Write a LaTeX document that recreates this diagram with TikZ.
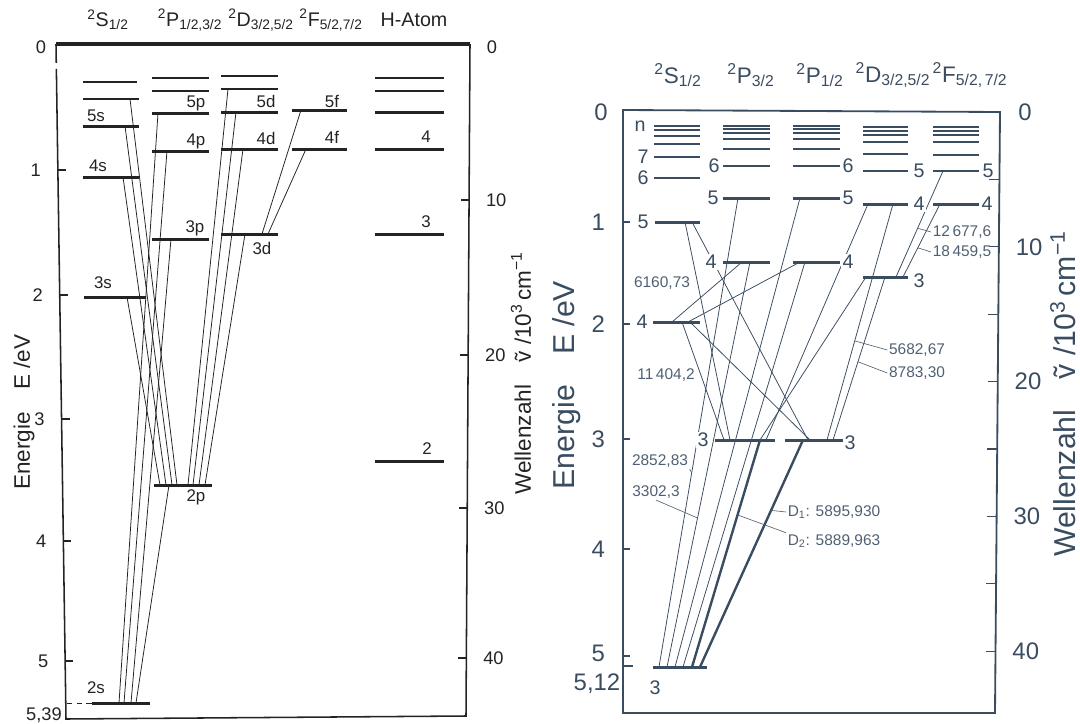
\documentclass[tikz,border=0pt]{standalone}
\usepackage{fontspec}
\setmainfont{Liberation Sans}
\usetikzlibrary{calc}
\definecolor{liK}{RGB}{35,35,35}
\definecolor{naK}{RGB}{58,76,96}
\definecolor{naT}{RGB}{80,96,114}
\newcommand\term[3]{\textsuperscript{#1}#2\textsubscript{#3}}

\begin{document}
\begin{tikzpicture}[x=0.025cm, y=-0.025cm,
    lv/.style={fill=liK, inner sep=0pt, outer sep=0pt, minimum height=0.075cm, minimum width=#1*0.025cm},
    nv/.style={lv=#1, fill=naK},
    lvmid/.style={minimum height=0.05cm},
    lvthin/.style={minimum height=0.035cm},
    litr/.style={liK, line width=0.55pt},
    natr/.style={naK, line width=0.55pt},
    natrD/.style={naK, line width=1.7pt},
    lead/.style={naT, line width=0.45pt},
    litick/.style={font=\fontsize{13}{13}\selectfont, text=liK},
    lihead/.style={font=\fontsize{14}{14}\selectfont, text=liK},
    lilab/.style={font=\fontsize{12}{12}\selectfont, text=liK},
    liaxis/.style={font=\fontsize{16}{16}\selectfont, text=liK, rotate=90},
    natick/.style={font=\fontsize{17}{17}\selectfont, text=naK},
    nahead/.style={font=\fontsize{16}{16}\selectfont, text=naK},
    nalab/.style={font=\fontsize{14}{14}\selectfont, text=naK, fill=white, inner sep=1pt},
    nawl/.style={font=\fontsize{11}{11}\selectfont, text=naT, inner sep=1pt},
    naaxis/.style={font=\fontsize{21.5}{21.5}\selectfont, text=naK, rotate=90}
  ]
  \useasboundingbox (0,0) rectangle (1080,724);

  % ---------- Li (left) ----------
  \coordinate (liTL) at (56,44);
  \coordinate (liTR) at (470,44);
  \coordinate (liBR) at (466,716);
  \coordinate (liBL) at (66,719);
  \draw[liK, line width=2.2pt] (liTL) -- (liTR);
  \draw[liK, line width=1.1pt] (liTL) -- ($(liTL)!0.028!(liBL)$);
  \draw[liK, line width=1.1pt] ($(liTL)!0.037!(liBL)$) -- (liBL) -- (liBR) -- (liTR);

  % energy axis
  \node[litick] (eL0) at (41,47) {0};
  \foreach \v/\y in {1/170, 2/295, 3/419, 4/541, 5/661} {
    \draw[liK, line width=0.8pt] ($(liTL)!{(\y-44)/675}!(liBL)$) coordinate (tkL\v) -- ++(8,0);
    \node[litick, anchor=east] (eL\v) at ($(tkL\v)+(-12,0)$) {\v};
  }
  \node[litick] (eL539) at (44,715) {5,39};
  % wavenumber axis
  \node[litick] (wL0) at (492,47) {0};
  \foreach \v/\y in {10/200, 20/355, 30/508, 40/658} {
    \draw[liK, line width=0.8pt] ($(liTR)!{(\y-44)/672}!(liBR)$) coordinate (tkR\v) -- ++(-8,0);
    \node[litick, anchor=west] (wL\v) at ($(tkR\v)+(12,0)$) {\v};
  }
  \node[liaxis] (liEax) at (24,412) {Energie\quad E /eV};
  \node[liaxis] (liWax) at (521,373) {Wellenzahl\quad \~{v} /10\textsuperscript{3}\,cm\textsuperscript{−1}};

  % headers
  \node[lihead] (liHS) at (108,20) {\term{2}{S}{1/2}};
  \node[lihead] (liHP) at (190,20) {\term{2}{P}{1/2,3/2}};
  \node[lihead] (liHD) at (261,20) {\term{2}{D}{3/2,5/2}};
  \node[lihead] (liHF) at (331,20) {\term{2}{F}{5/2,7/2}};
  \node[lihead] (liHH) at (414,20) {H-Atom};

  % levels
  \foreach \n/\x/\y/\w in {li2s/121/703/58, li3s/115/297/62, li4s/111/177/56, li5s/111/126/56,
      li2p/183/485/58, li3p/180.5/239/57, li4p/180.5/151/57, li5p/180.5/113/57,
      li3d/249.5/234/57, li4d/249.5/149/57, li5d/249.5/112/57,
      li4f/319.5/149/55, li5f/319.5/110/55,
      h2/409.5/461/69, h3/409.5/234/69, h4/409.5/149/69, h5/409.5/112/69}
    \node[lv=\w] (\n) at (\x,\y) {};
  \foreach \n/\x/\y/\w in {li6s/111/99/56, li6p/180.5/91/57, li6d/249.5/89/57, h6/409.5/91/69}
    \node[lv=\w, lvmid] (\n) at (\x,\y) {};
  \foreach \n/\x/\y/\w in {li7s/110/82/54, li7p/180.5/78/57, li7d/249.5/76/57, h7/409.5/78/69}
    \node[lv=\w, lvthin] (\n) at (\x,\y) {};
  \draw[liK, line width=0.7pt, dash pattern=on 4pt off 3pt] (li2s.west) -- ++(-27,0);

  % transitions
  \foreach \a/\da/\b/\db in {li3s/43/li2p/6, li4s/40/li2p/12, li5s/42/li2p/18, li6s/47/li2p/23,
      li2p/15/li2s/44, li3p/19/li2s/39, li4p/15/li2s/32, li5p/6/li2s/27,
      li6d/7/li2p/34, li5d/15/li2p/39, li4d/22/li2p/45, li3d/24/li2p/51,
      li5f/9/li3d/41, li4f/14/li3d/47}
    \draw[litr] ($(\a.west)+(\da,0)$) -- ($(\b.west)+(\db,0)$);

  % level labels
  \foreach \n/\x/\y/\t in {lb5s/96/116/5s, lb4s/98/166/4s, lb3s/103/283/3s, lb2s/96/688/2s,
      lb5p/196/103/5p, lb4p/196/141/4p, lb3p/195/228/3p, lb2p/196/497/2p,
      lb5d/266/101/5d, lb4d/266/138/4d, lb3d/262/248/3d,
      lb5f/332/101/5f, lb4f/332/137/4f,
      lbh4/426/137/4, lbh3/426/222/3, lbh2/427/449/2}
    \node[lilab] (\n) at (\x,\y) {\t};

  % ---------- Na (right) ----------
  \coordinate (naTL) at (623,110);
  \coordinate (naTR) at (1000,112);
  \coordinate (naBR) at (995,713);
  \coordinate (naBL) at (623,713);
  \draw[naK, line width=1.3pt] (naTL) -- (naTR) -- (naBR) -- (naBL) -- cycle;

  % energy axis
  \node[natick] (eR0) at (601,112) {0};
  \foreach \v/\y in {1/222, 2/324, 3/439, 4/549} {
    \draw[naK, line width=0.8pt] (623,\y) coordinate (tkNL\v) -- ++(7,0);
    \node[natick, anchor=east] (eR\v) at ($(tkNL\v)+(-13,0)$) {\v};
  }
  \draw[naK, line width=0.8pt] (623,656) coordinate (tkNL5) -- ++(7,0);
  \node[natick, anchor=east] (eR5) at ($(tkNL5)+(-13,-3)$) {5};
  \draw[naK, line width=0.8pt] (623,666) coordinate (tkNL512) -- ++(10,0);
  \node[natick] (eR512) at (597,684) {5,12};
  % wavenumber axis
  \node[natick] (wR0) at (1025,112) {0};
  \foreach \k in {1,...,8}
    \draw[naK, line width=0.8pt] ($(naTR)!{67.4*\k/601}!(naBR)$) coordinate (tkNR\k) -- ++(-10,0);
  \foreach \k/\v in {2/10, 4/20, 6/30, 8/40}
    \node[natick, anchor=west] (wR\v) at ($(tkNR\k)+(12,0)$) {\v};
  \node[naaxis] (naEax) at (567,385) {Energie\quad E /eV};
  \node[naaxis] (naWax) at (1063,394) {Wellenzahl\quad \~{v} /10\textsuperscript{3}\,cm\textsuperscript{−1}};

  % headers
  \node[nahead] (naHS) at (678,75) {\term{2}{S}{1/2}};
  \node[nahead] (naHPa) at (751,75) {\term{2}{P}{3/2}};
  \node[nahead] (naHPb) at (820,75) {\term{2}{P}{1/2}};
  \node[nahead] (naHD) at (893,75) {\term{2}{D}{3/2,5/2}};
  \node[nahead] (naHF) at (970,75) {\term{2}{F}{5/2,\,7/2}};

  % levels
  \foreach \x/\w/\ys [count=\c] in {677/46/{126,130,136,144}, 746.5/47/{126,129,133,139,149},
      816.5/47/{126,129,133,139,149}, 885.5/45/{127,131,135,142,154}, 956/46/{127,131,135,142,155}}
    \foreach \y [count=\i] in \ys
      \node[nv=\w, lvthin] (na\c t\i) at (\x,\y) {};
  \foreach \n/\x/\y/\w in {na6s/677/178/46, na7s/677/157/46, na6p3/746.5/166/47, na6p1/816.5/166/47,
      na5d/885.5/171/45, na5f/956/171/46}
    \node[nv=\w, lvmid] (\n) at (\x,\y) {};
  \foreach \n/\x/\y/\w in {na3s/680/667/54, na4s/676.5/322/47, na5s/677.5/222/45,
      na3p3/745/440/60, na4p3/746.5/262/47, na5p3/746.5/198/47,
      na3p1/815/440/60, na4p1/816.5/262/47, na5p1/816.5/198/47,
      na3d/885.5/277/45, na4d/885.5/204/45, na4f/956/204/46}
    \node[nv=\w] (\n) at (\x,\y) {};

  % transitions
  \foreach \a/\da/\b/\db in {na3s/22/na5p1/7, na3s/30/na4p1/12, na4s/19/na4p3/19, na4s/35/na4p1/7,
      na4s/29/na3p3/9, na4s/37/na3p1/25, na5s/30/na3p3/15, na5s/37/na3p1/23,
      na3d/3/na3p3/45, na4d/5/na3p3/51}
    \draw[natr] ($(\a.west)+(\da,0)$) -- ($(\b.west)+(\db,0)$);
  \draw[natr] ($(na3s.west)+(6,0)$) -- coordinate[pos=0.414] (k2852) ($(na5p3.west)+(15,0)$);
  \draw[natr] ($(na3s.west)+(14,0)$) -- coordinate[pos=0.368] (k3302) ($(na4p3.west)+(27,0)$);
  \draw[natrD] ($(na3s.west)+(39,0)$) -- coordinate[pos=0.67] (kD2) ($(na3p3.west)+(45,0)$);
  \draw[natrD] ($(na3s.west)+(47,0)$) -- coordinate[pos=0.69] (kD1) ($(na3p1.west)+(18,0)$);
  \draw[natr] ($(na3d.west)+(22,0)$) -- coordinate[pos=0.52] (k8783) ($(na3p1.west)+(48,0)$);
  \draw[natr] ($(na4d.west)+(30,0)$) -- coordinate[pos=0.58] (k5682) ($(na3p1.west)+(42,0)$);
  \draw[natr] ($(na5f.west)+(10,0)$) -- coordinate[pos=0.54] (k12677) ($(na3d.west)+(33,0)$);
  \draw[natr] ($(na4f.west)+(7,0)$) -- coordinate[pos=0.6] (k18459) ($(na3d.west)+(40,0)$);

  % wavelengths
  \node[nawl] (t6160) at (662,283) {6160,73};
  \node[nawl] (t11404) at (666,375) {11\,404,2};
  \node[nawl] (t2852) at (660,461) {2852,83};
  \node[nawl] (t3302) at (656,492) {3302,3};
  \node[nawl] (tD1) at (834,512) {D\textsubscript{1}: 5895,930};
  \node[nawl] (tD2) at (834,541) {D\textsubscript{2}: 5889,963};
  \node[nawl] (t5682) at (917,350) {5682,67};
  \node[nawl] (t8783) at (917,373) {8783,30};
  \node[nawl] (t12677) at (962,232) {12\,677,6};
  \node[nawl] (t18459) at (962,252) {18\,459,5};
  \draw[lead] (k2852) -- (t2852.south east);
  \draw[lead] (k3302) -- (t3302.south);
  \draw[lead] (kD1) -- (tD1.west);
  \draw[lead] (kD2) -- (tD2.north west);
  \draw[lead] (k5682) -- (t5682.west);
  \draw[lead] (k8783) -- (t8783.west);
  \draw[lead] (k12677) -- (t12677.west);
  \draw[lead] (k18459) -- (t18459.west);

  % level labels
  \foreach \n/\x/\y/\t in {ns/640/126/n, n7s/643/157/7, n6s/643/178/6, n5s/643/222/5, n4s/642/322/4, n3s/655/688/3,
      n6a/714/166/6, n5a/713/198/5, n4a/711/262/4, n3a/703/440/3,
      n6b/848/166/6, n5b/848/198/5, n4b/848/262/4, n3b/850/443/3,
      n5d/919/171/5, n4d/919/204/4, n3d/919/281/3,
      n5f/988/171/5, n4f/987/204/4}
    \node[nalab] (\n) at (\x,\y) {\t};
\end{tikzpicture}
\end{document}
